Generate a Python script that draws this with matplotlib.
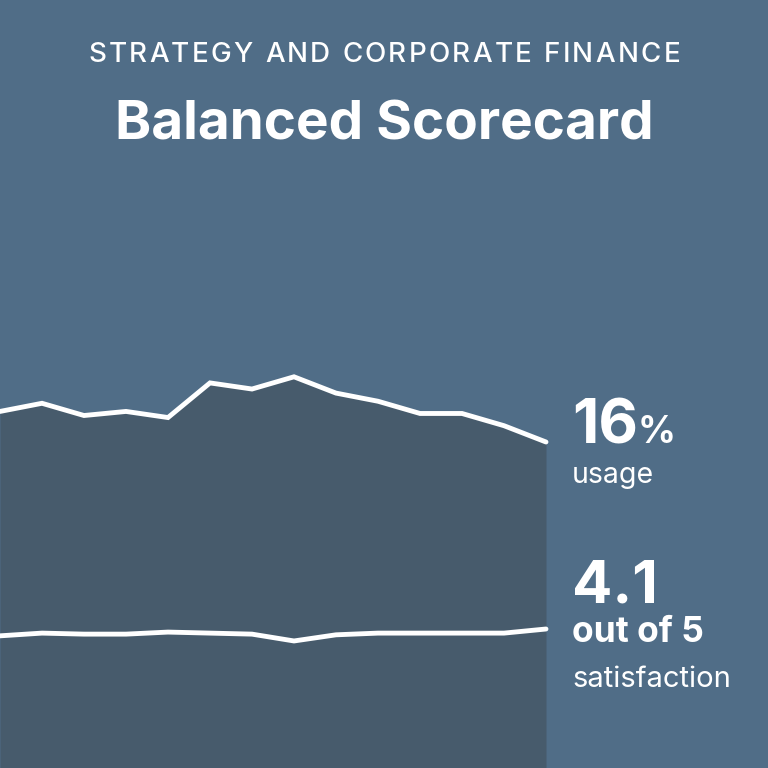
import matplotlib
matplotlib.use("Agg")
import matplotlib.pyplot as plt
import numpy as np

# monthly series
usage = [17.5, 17.9, 17.3, 17.5, 17.2, 18.9, 18.6, 19.2, 18.4, 18.0, 17.4, 17.4, 16.8, 16.0]
satisfaction = [3.87, 3.95, 3.92, 3.92, 3.98, 3.95, 3.92, 3.72, 3.90, 3.95, 3.95, 3.95, 3.95, 4.07]
usage_label = "16"
sat_label = "4.1"
kicker = "STRATEGY AND CORPORATE FINANCE"

bg = "#506d87"
fill = "#475b6c"
plt.rcParams['font.family'] = ['Inter', 'DejaVu Sans']

fig = plt.figure(figsize=(7.68, 7.68), dpi=100, facecolor=bg)
ax = fig.add_axes([0, 0, 1, 1])
ax.set_facecolor(bg)
x = np.arange(len(usage))
ax.fill_between(x, usage, 0, color=fill, lw=0)
ax.plot(x, usage, color="white", lw=3.5, solid_capstyle="round", solid_joinstyle="miter")
ax.set_xlim(0, 768 / 42)
ax.set_ylim(0, 768 / 20.375)
ax.axis("off")

ax2 = ax.twinx()
ax2.plot(x, satisfaction, color="white", lw=3.5, solid_capstyle="round")
ax2.set_ylim(0, 768 / 34.15)
ax2.axis("off")

renderer = fig.canvas.get_renderer()


def width_px(s, **kw):
    t = fig.text(0, 0, s, **kw)
    w = t.get_window_extent(renderer).width
    t.remove()
    return w


# letter-spaced kicker line
kw = dict(fontsize=20, fontweight="medium", color="white")
target = 592
w0 = width_px(kicker, **kw)
track = (target - w0) / (len(kicker) - 1)
x0 = 384 - target / 2
for i, ch in enumerate(kicker):
    if ch == " ":
        continue
    px = x0 + (width_px(kicker[:i], **kw) if i else 0) + i * track
    fig.text(px / 768, 0.919, ch, ha="left", va="baseline", **kw)

fig.text(0.5, 0.818, "Balanced Scorecard", ha="center", va="baseline",
         color="white", fontsize=39.5, fontweight="bold")

tx = 572 / 768
t = fig.text(tx, 0.423, usage_label, ha="left", va="baseline", color="white",
             fontsize=44, fontweight="bold")
bb = t.get_window_extent(renderer)
fig.text(bb.x1 / 768 - 0.001, 0.423, "%", ha="left", va="baseline", color="white",
         fontsize=27, fontweight="bold")
fig.text(tx, 0.371, "usage", ha="left", va="baseline", color="white", fontsize=20.5)
fig.text(tx, 0.215, sat_label, ha="left", va="baseline", color="white",
         fontsize=43, fontweight="bold")
fig.text(tx, 0.164, "out of 5", ha="left", va="baseline", color="white",
         fontsize=25.5, fontweight="bold")
fig.text(tx, 0.105, "satisfaction", ha="left", va="baseline", color="white", fontsize=21)

fig.savefig("out.png", dpi=100, facecolor=bg)
